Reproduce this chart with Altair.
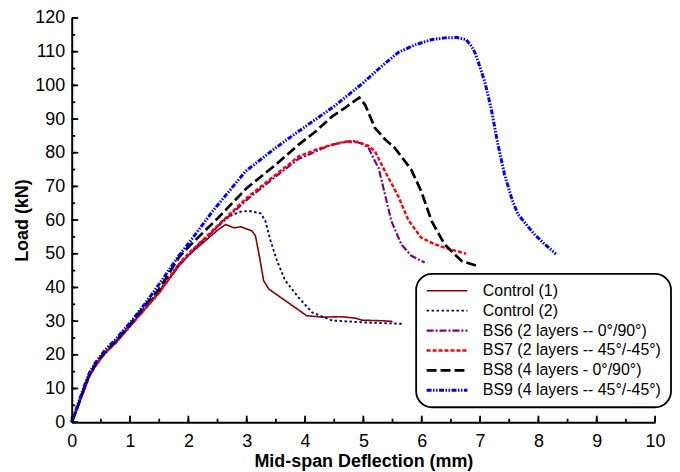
import altair as alt
import pandas as pd

series = [
    "Control (1)",
    "Control (2)",
    "BS6 (2 layers -- 0°/90°)",
    "BS7 (2 layers -- 45°/-45°)",
    "BS8 (4 layers - 0°/90°)",
    "BS9 (4 layers -- 45°/-45°)",
]
colors = ["#8B0000", "#00007F", "#800080", "#FF0000", "#000000", "#0000FF"]
dashes = [[1, 0], [2.5, 2.5], [7, 2, 2, 2], [4, 2], [10, 4], [5, 1.5, 1.5, 1.5, 1.5, 1.5]]
widths = [1.6, 3.0, 3.0, 3.2, 3.2, 2.6]

c1_x = [0, 0.1, 0.2, 0.3, 0.4, 0.5, 0.6, 0.75, 1.0, 1.25, 1.5, 1.84, 2.0, 2.3, 2.5, 2.64,
        2.78, 2.9, 3.09, 3.15, 3.22, 3.29, 3.38, 3.66, 4.03, 4.3, 4.63, 4.86, 4.97, 5.34, 5.5]
c1_y = [0, 4.5, 9, 13.5, 16.5, 19, 21, 23.5, 28.5, 33.5, 38.5, 46.5, 49.5, 54, 57, 58.7,
        57.7, 58, 56.8, 55.3, 49, 42, 39.5, 36.1, 31.6, 31.2, 31.3, 30.9, 30.3, 30.1, 29.9]

c2_x = [0, 0.1, 0.2, 0.3, 0.4, 0.5, 0.6, 0.75, 1.0, 1.25, 1.5, 1.84, 2.0, 2.5, 2.58, 2.75,
        2.9, 3.04, 3.24, 3.32, 3.41, 3.52, 3.66, 3.89, 4.12, 4.46, 5.03, 5.68]
c2_y = [0, 4.5, 9.5, 14, 17, 19.3, 21.3, 24, 29, 34, 39, 47, 50, 58, 59.7, 61.5,
        62.5, 62.7, 62, 59.7, 53.8, 47.9, 42, 37, 32.6, 30.2, 29.6, 29.2]

b6_x = [0, 0.1, 0.2, 0.3, 0.4, 0.5, 0.6, 0.75, 1.0, 1.25, 1.5, 1.84, 2.0, 2.5, 3.0, 3.5,
        3.89, 4.4, 4.65, 4.83, 5.0, 5.09, 5.2, 5.26, 5.37, 5.48, 5.65, 5.82, 6.05]
b6_y = [0, 4.5, 9, 13.5, 16.5, 19, 21, 23.5, 28.5, 33.5, 38.5, 46.5, 49.5, 58, 66, 73,
        78.2, 82, 83.2, 83.5, 82.5, 81.4, 77.4, 75.5, 67.6, 59.7, 52.8, 49.4, 47.4]

b7_x = [0, 0.1, 0.2, 0.3, 0.4, 0.5, 0.6, 0.75, 1.0, 1.25, 1.5, 1.84, 2.0, 2.5, 3.0, 3.5,
        3.89, 4.2, 4.46, 4.7, 4.91, 5.09, 5.2, 5.37, 5.6, 5.77, 5.99, 6.2, 6.39, 6.6, 6.76]
b7_y = [0, 4.5, 9, 13.5, 16.5, 19, 21, 23.5, 28.5, 33.5, 38.5, 47, 50, 58.3, 66.6, 73.5,
        78.9, 81, 82.4, 83.2, 83.2, 82, 80.4, 74.5, 67, 60, 54.8, 53, 51.8, 50.8, 50]

b8_x = [0, 0.1, 0.2, 0.3, 0.4, 0.5, 0.6, 0.75, 1.0, 1.25, 1.5, 1.84, 2.0, 2.5, 3.0, 3.5,
        3.89, 4.18, 4.46, 4.7, 4.93, 5.03, 5.2, 5.37, 5.54, 5.82, 5.99, 6.17, 6.39, 6.68, 6.99]
b8_y = [0, 4.5, 9.5, 14, 17, 19.3, 21.3, 24, 29, 34.5, 39.5, 49, 52, 60.5, 69.5, 76.5,
        82.4, 86.3, 90.7, 93.5, 96.4, 94.2, 87.3, 84, 81.4, 75, 68.6, 59.7, 52.8, 47.9, 46.2]

b9_x = [0, 0.1, 0.2, 0.3, 0.4, 0.5, 0.6, 0.75, 1.0, 1.25, 1.5, 1.84, 2.0, 2.41, 2.98, 3.5,
        3.86, 4.5, 5.0, 5.3, 5.6, 5.88, 6.17, 6.4, 6.6, 6.76, 6.86, 6.93, 7.08, 7.19, 7.3,
        7.42, 7.55, 7.65, 7.93, 8.1, 8.3]
b9_y = [0, 5, 10, 14.5, 17.5, 19.8, 22, 24.5, 29.5, 35, 41, 49.5, 53, 62.5, 74.5, 81.5,
        86, 93.8, 100.8, 105.5, 109.8, 112, 113.6, 114.1, 114.2, 113.6, 111.5, 109, 101.1, 93.2, 83,
        73.5, 66, 61.7, 55.8, 53, 49.9]

xs = [c1_x, c2_x, b6_x, b7_x, b8_x, b9_x]
ys = [c1_y, c2_y, b6_y, b7_y, b8_y, b9_y]

rows = []
for name, sx, sy in zip(series, xs, ys):
    for i, (a, b) in enumerate(zip(sx, sy)):
        rows.append({"series": name, "x": a, "y": b, "i": i})
df = pd.DataFrame(rows)

x_major = list(range(0, 11))
x_minor = [v / 2 for v in range(0, 21)]
y_major = list(range(0, 121, 10))
y_minor = list(range(0, 121, 5))

FONT = "Liberation Sans"
W, H = 586, 406

xscale = alt.Scale(domain=[0, 10], nice=False)
yscale = alt.Scale(domain=[0, 120], nice=False)

xaxis = alt.Axis(
    values=x_major, format="d", title="Mid-span Deflection (mm)", ticks=False,
    labelPadding=10, labelFontSize=18, labelFont=FONT, labelColor="black",
    domainColor="black", domainWidth=2, grid=False, labelFlush=False,
    titleFont=FONT, titleFontSize=18, titleFontWeight="bold", titleColor="black",
    titleX=293, titleY=40, titleAlign="center", titleBaseline="middle",
)
yaxis = alt.Axis(
    values=y_major, format="d", title="Load (kN)", ticks=False,
    labelPadding=7, labelFontSize=18, labelFont=FONT, labelColor="black",
    domainColor="black", domainWidth=2, grid=False, labelFlush=False,
    titleFont=FONT, titleFontSize=18, titleFontWeight="bold", titleColor="black",
    titleX=-49, titleY=203, titleAlign="center", titleBaseline="middle", titleAngle=-90,
)

lines = alt.Chart(df).mark_line(strokeCap="butt", strokeJoin="round").encode(
    x=alt.X("x:Q", scale=xscale, axis=xaxis),
    y=alt.Y("y:Q", scale=yscale, axis=yaxis),
    color=alt.Color("series:N", scale=alt.Scale(domain=series, range=colors), legend=alt.Legend(title=None)),
    strokeDash=alt.StrokeDash("series:N", scale=alt.Scale(domain=series, range=dashes), legend=alt.Legend(title=None)),
    strokeWidth=alt.StrokeWidth("series:N", scale=alt.Scale(domain=series, range=widths), legend=alt.Legend(title=None)),
    order="i:Q",
)


def x_ticks(vals, size):
    return alt.Chart(pd.DataFrame({"x": vals})).mark_rule(color="black", strokeWidth=1.8).encode(
        x=alt.X("x:Q", scale=xscale, axis=xaxis),
        y=alt.value(H), y2=alt.value(H - size),
    )


def y_ticks(vals, size):
    return alt.Chart(pd.DataFrame({"y": vals})).mark_rule(color="black", strokeWidth=1.8).encode(
        y=alt.Y("y:Q", scale=yscale, axis=yaxis),
        x=alt.value(0), x2=alt.value(size),
    )


chart = alt.layer(
    lines,
    x_ticks(x_minor, 3.5), x_ticks(x_major, 6.5),
    y_ticks(y_minor, 3.5), y_ticks(y_major, 6.5),
).properties(
    width=W, height=H,
    padding={"left": 6, "top": 0, "right": 0, "bottom": 0},
).configure_view(stroke=None).configure_legend(
    orient="none", legendX=346, legendY=257,
    fillColor="white", strokeColor="black", strokeWidth=1.8, cornerRadius=16,
    padding=9, rowPadding=4, symbolType="stroke", symbolSize=1681, clipHeight=16,
    labelFont=FONT, labelFontSize=16, labelColor="black", labelOffset=14,
    labelLimit=400, symbolStrokeWidth=3,
)

chart.save("out.html", embed_options={"renderer": "svg", "actions": False})
